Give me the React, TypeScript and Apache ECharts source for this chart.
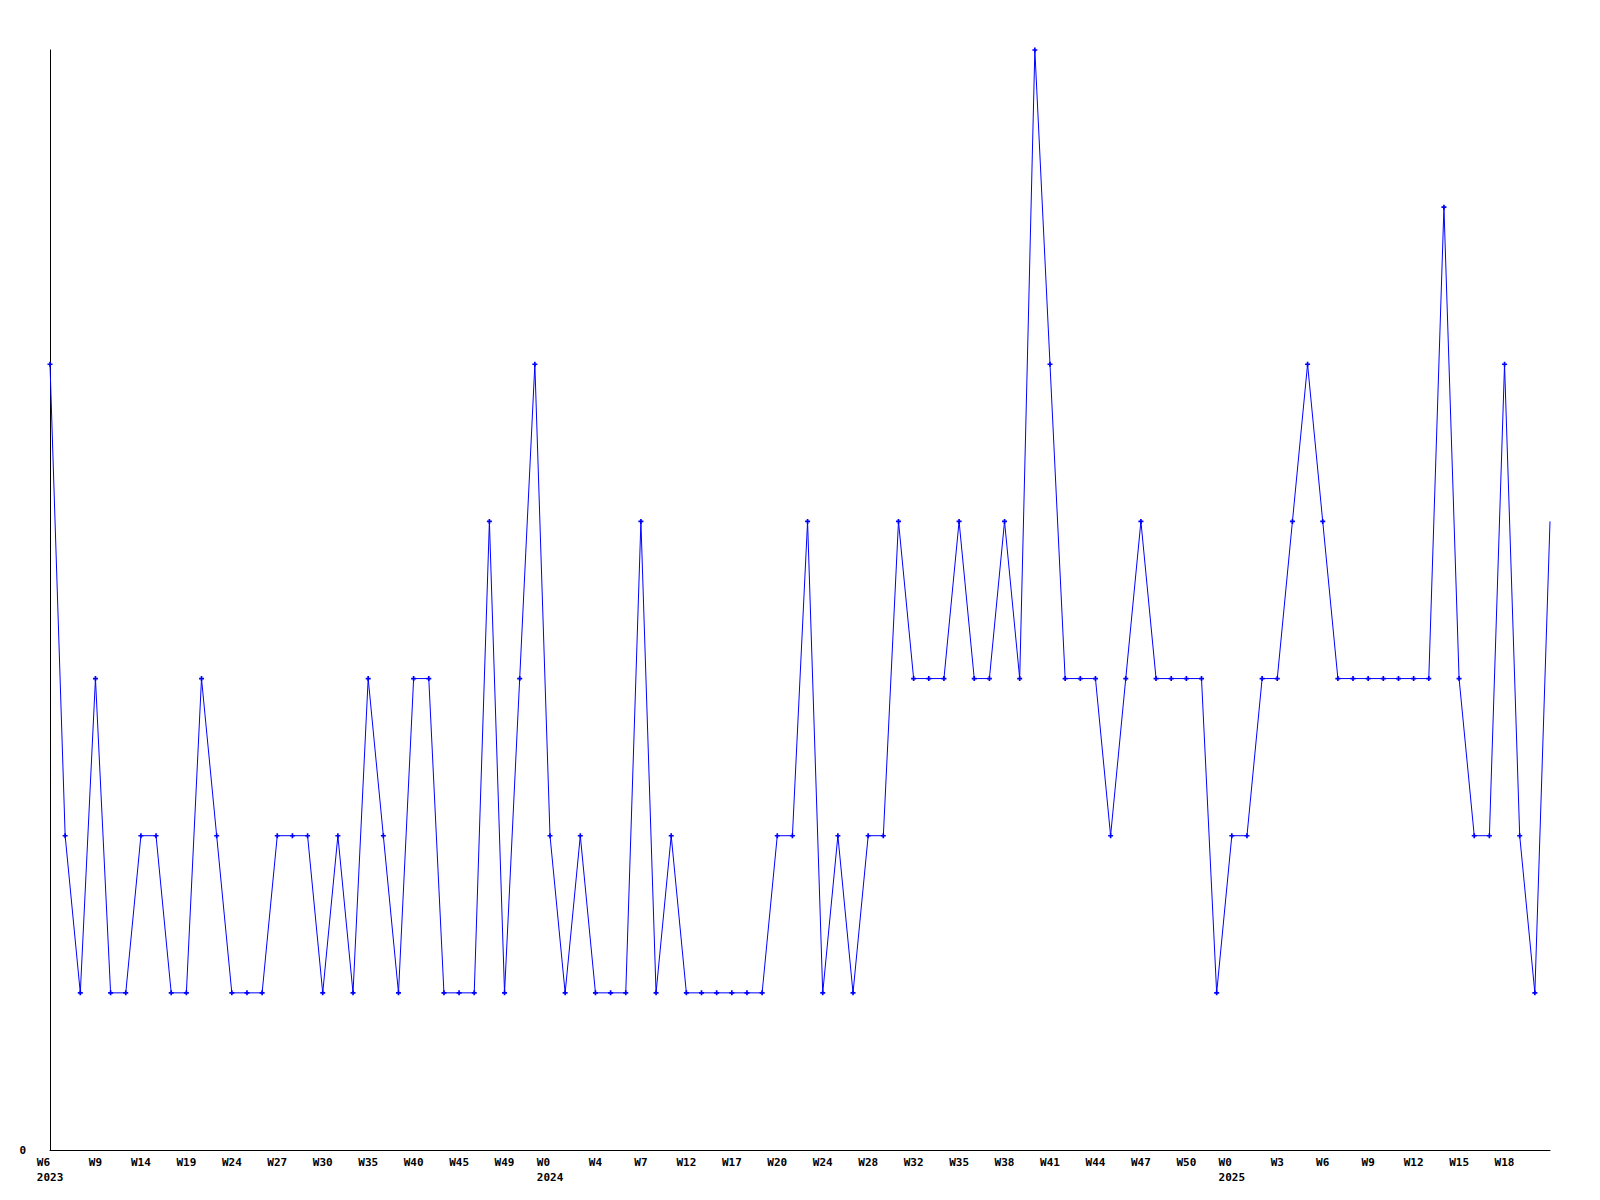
import React, { useEffect, useRef } from "react";
import * as echarts from "echarts";

// weekly counts, 100 consecutive points (W6 2023 ... )
const values: number[] = [
  5, 2, 1, 3, 1, 1, 2, 2, 1, 1,
  3, 2, 1, 1, 1, 2, 2, 2, 1, 2,
  1, 3, 2, 1, 3, 3, 1, 1, 1, 4,
  1, 3, 5, 2, 1, 2, 1, 1, 1, 4,
  1, 2, 1, 1, 1, 1, 1, 1, 2, 2,
  4, 1, 2, 1, 2, 2, 4, 3, 3, 3,
  4, 3, 3, 4, 3, 7, 5, 3, 3, 3,
  2, 3, 4, 3, 3, 3, 3, 1, 2, 2,
  3, 3, 4, 5, 4, 3, 3, 3, 3, 3,
  3, 3, 6, 3, 2, 2, 5, 2, 1, 4,
];

// tick labels shown every 3rd point
const tickLabels: string[] = [
  "W6", "W9", "W14", "W19", "W24", "W27", "W30", "W35", "W40", "W45", "W49",
  "W0", "W4", "W7", "W12", "W17", "W20", "W24", "W28", "W32", "W35", "W38",
  "W41", "W44", "W47", "W50", "W0", "W3", "W6", "W9", "W12", "W15", "W18",
];
const yearTickIndex: number[] = [0, 11, 26];
const years: string[] = ["2023", "2024", "2025"];

const categories = values.map((_, i) => String(i));

const FONT = "DejaVu Sans Mono";

export default function App() {
  const ref = useRef<HTMLDivElement>(null);
  useEffect(() => {
    if (!ref.current) return;
    const chart = echarts.init(ref.current, null, { renderer: "svg" });
    const plus = "path://M2,0H4V2H6V4H4V6H2V4H0V2H2Z";
    chart.setOption({
      animation: false,
      backgroundColor: "#ffffff",
      grid: { left: 50, right: 50, top: 50, bottom: 50, containLabel: false },
      xAxis: {
        type: "category",
        data: categories,
        boundaryGap: false,
        axisLine: { show: true, lineStyle: { color: "#000000", width: 1 } },
        axisTick: { show: false },
        splitLine: { show: false },
        axisLabel: {
          interval: (i: number) => i % 3 === 0 && i / 3 < tickLabels.length,
          margin: 5,
          formatter: (_v: string, i: number) => {
            const k = Math.round(i / 3);
            const t = tickLabels[k] ?? "";
            const yi = yearTickIndex.indexOf(k);
            return yi >= 0 ? `{a|${t}}\n{a|${years[yi]}}` : `{a|${t}}`;
          },
          rich: {
            a: {
              align: "left",
              fontFamily: FONT,
              fontSize: 11,
              fontWeight: "bold",
              color: "#000000",
              lineHeight: 15,
            },
          },
        },
      },
      yAxis: {
        type: "value",
        min: 0,
        max: 7,
        interval: 1,
        axisLine: { show: true, lineStyle: { color: "#000000", width: 1 } },
        axisTick: { show: false },
        splitLine: { show: false },
        axisLabel: {
          margin: 24,
          fontFamily: FONT,
          fontSize: 11,
          fontWeight: "bold",
          color: "#000000",
          formatter: (v: number) => (v === 0 ? "0" : ""),
        },
      },
      series: [
        {
          type: "line",
          data: values.map((v, i) =>
            i === values.length - 1 ? { value: v, symbol: "none" } : v
          ),
          symbol: plus,
          symbolSize: 5,
          showAllSymbol: true,
          lineStyle: { color: "#0000ff", width: 1 },
          itemStyle: { color: "#0000ff" },
        },
      ],
    });
    return () => chart.dispose();
  }, []);
  return (
    <div
      ref={ref}
      style={{ position: "absolute", left: 0, top: 0, width: 1600, height: 1200 }}
    />
  );
}
